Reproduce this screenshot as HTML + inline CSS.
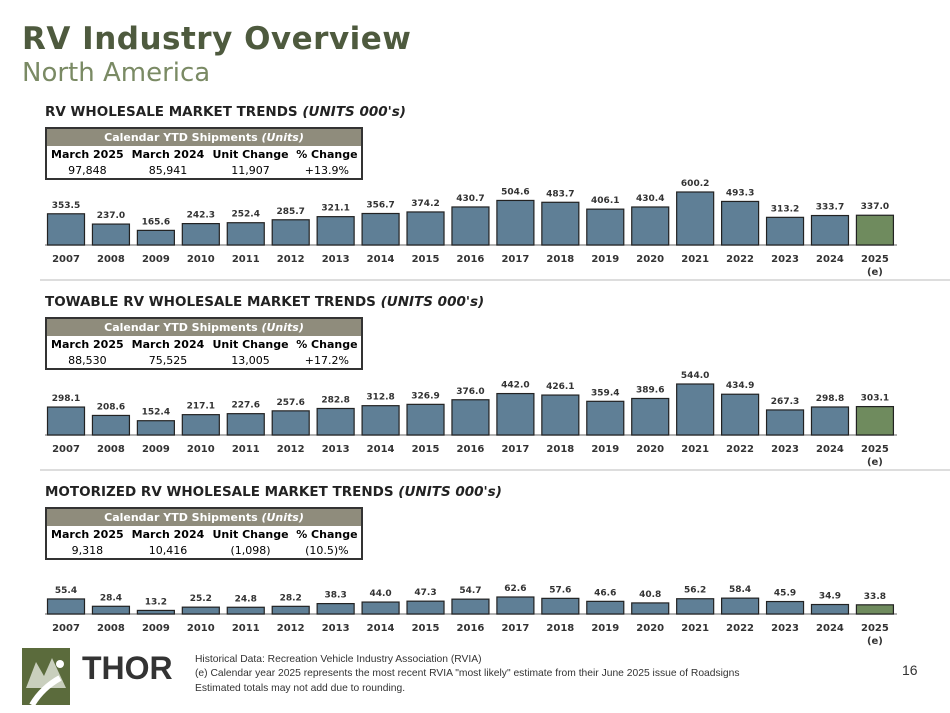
<!DOCTYPE html>
<html><head><meta charset="utf-8"><style>
body{margin:0;width:950px;height:713px;background:#fff;font-family:"DejaVu Sans","Liberation Sans",sans-serif;position:relative;overflow:hidden}
.abs{position:absolute}
h1{position:absolute;left:22px;top:21px;margin:0;font-size:31px;font-weight:bold;color:#4e5a3e;font-family:"DejaVu Sans",sans-serif;letter-spacing:0.5px}
.sub{left:22px;top:58px;font-size:26px;color:#7a8a64}
.sec{left:45px;font-size:13.5px;font-weight:bold;color:#222}
table{position:absolute;left:45px;width:318px;border:2px solid #333;border-collapse:collapse;font-size:11px}
table td{text-align:center;height:16px;padding:0}
table .hd td{background:#8f8c7c;color:#fff;font-weight:bold;height:17px}
table .b td{font-weight:bold}
.foot{left:195px;top:653px;font-size:10.3px;line-height:14.3px;color:#333;font-family:"Liberation Sans",sans-serif}
svg text{font-family:"DejaVu Sans",sans-serif}
</style></head><body>
<h1>RV Industry Overview</h1>
<div class="abs sub">North America</div>

<div class="abs sec" style="top:104px">RV WHOLESALE MARKET TRENDS <i>(UNITS 000's)</i></div>
<table style="top:127px">
<tr class="hd"><td colspan="4">Calendar YTD Shipments <i>(Units)</i></td></tr>
<tr class="b"><td>March 2025</td><td>March 2024</td><td>Unit Change</td><td>% Change</td></tr>
<tr><td>97,848</td><td>85,941</td><td>11,907</td><td>+13.9%</td></tr></table>

<div class="abs sec" style="top:294px">TOWABLE RV WHOLESALE MARKET TRENDS <i>(UNITS 000's)</i></div>
<table style="top:317px">
<tr class="hd"><td colspan="4">Calendar YTD Shipments <i>(Units)</i></td></tr>
<tr class="b"><td>March 2025</td><td>March 2024</td><td>Unit Change</td><td>% Change</td></tr>
<tr><td>88,530</td><td>75,525</td><td>13,005</td><td>+17.2%</td></tr></table>

<div class="abs sec" style="top:484px">MOTORIZED RV WHOLESALE MARKET TRENDS <i>(UNITS 000's)</i></div>
<table style="top:507px">
<tr class="hd"><td colspan="4">Calendar YTD Shipments <i>(Units)</i></td></tr>
<tr class="b"><td>March 2025</td><td>March 2024</td><td>Unit Change</td><td>% Change</td></tr>
<tr><td>9,318</td><td>10,416</td><td>(1,098)</td><td>(10.5)%</td></tr></table>

<svg id="charts" class="abs" style="left:0;top:0" width="950" height="713"></svg>

<div class="abs" style="left:22px;top:648px;width:48px;height:57px;background:#5b6b3c">
<svg width="48" height="57"><polygon points="4,40 14,14 22,28 30,10 44,40" fill="#c9cfbd"/><path d="M10,57 Q20,40 38,30" stroke="#fff" stroke-width="6" fill="none"/><circle cx="38" cy="16" r="4" fill="#fff"/></svg></div>
<div class="abs" style="left:82px;top:650px;font-size:32px;font-weight:bold;color:#333;font-family:'Liberation Sans',sans-serif">THOR</div>
<div class="abs foot">Historical Data: Recreation Vehicle Industry Association (RVIA)<br>(e) Calendar year 2025 represents the most recent RVIA "most likely" estimate from their June 2025 issue of Roadsigns<br>Estimated totals may not add due to rounding.</div>
<div class="abs" style="left:902px;top:662px;font-size:14px;color:#333;font-family:'Liberation Sans',sans-serif">16</div>

<script>
const years=["2007","2008","2009","2010","2011","2012","2013","2014","2015","2016","2017","2018","2019","2020","2021","2022","2023","2024","2025"];
const rvValues=[353.5,237.0,165.6,242.3,252.4,285.7,321.1,356.7,374.2,430.7,504.6,483.7,406.1,430.4,600.2,493.3,313.2,333.7,337.0];
const towableValues=[298.1,208.6,152.4,217.1,227.6,257.6,282.8,312.8,326.9,376.0,442.0,426.1,359.4,389.6,544.0,434.9,267.3,298.8,303.1];
const motorizedValues=[55.4,28.4,13.2,25.2,24.8,28.2,38.3,44.0,47.3,54.7,62.6,57.6,46.6,40.8,56.2,58.4,45.9,34.9,33.8];
const svg=document.getElementById('charts');
const NS='http://www.w3.org/2000/svg';
function mk(t,a){const e=document.createElementNS(NS,t);for(const k in a)e.setAttribute(k,a[k]);svg.appendChild(e);return e;}
function draw(name,vals,base,maxPx,maxVal,sepY){
  const x=i=>66+i*44.94;
  const y=v=>base-v/maxVal*maxPx;
  const ax=mk('line',{x1:45,x2:897,y1:base,y2:base,stroke:'#999','stroke-width':1.5});
  
  
  vals.forEach((v,i)=>{
    const r=mk('rect',{x:x(i)-18.5,y:y(v),width:37,height:base-y(v),fill:i==vals.length-1?'#6f8b5e':'#5f7f96',stroke:'#222','stroke-width':1.2});
    
    
    const t=mk('text',{x:x(i),y:y(v)-6,'text-anchor':'middle','font-size':9,'font-weight':'bold',fill:'#333'});
    t.textContent=v.toFixed(1);
    
    
    const yl=mk('text',{x:x(i),y:base+17,'text-anchor':'middle','font-size':10,'font-weight':'bold',fill:'#333'});
    yl.textContent=years[i];
    
    
    if(i==vals.length-1){
      const e=mk('text',{x:x(i),y:base+30,'text-anchor':'middle','font-size':10,'font-weight':'bold',fill:'#333'});
      e.textContent='(e)';
      
      
    }
  });
  if(sepY){const s=mk('line',{x1:40,x2:950,y1:sepY,y2:sepY,stroke:'#ddd','stroke-width':2});
    
    }
}
draw('rv',rvValues,245,53,600.2,280);
draw('towable',towableValues,435,51,544,470);
draw('motorized',motorizedValues,614,17,62.6,0);
</script>
</body></html>
